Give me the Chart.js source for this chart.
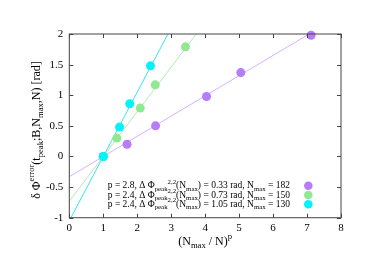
<!DOCTYPE html>
<html><head><meta charset="utf-8">
<script src="https://cdn.jsdelivr.net/npm/chart.js@4/dist/chart.umd.min.js"></script>
<style>html,body{margin:0;padding:0;background:#fff}</style>
</head><body>
<canvas id="c" width="390" height="276"></canvas>
<script>
// ---- data ----
const xTicks = [0, 1, 2, 3, 4, 5, 6, 7, 8];
const yTicks = [-1, -0.5, 0, 0.5, 1, 1.5, 2];
const purpleX = [1, 1.70, 2.54, 4.04, 5.05, 7.12];
const purpleY = [0, 0.20, 0.50, 0.98, 1.37, 1.98];
const greenX = [1, 1.40, 2.09, 2.53, 3.42];
const greenY = [0, 0.30, 0.79, 1.17, 1.79];
const cyanX = [1, 1.48, 1.78, 2.39];
const cyanY = [0, 0.48, 0.86, 1.48];
const fitX = [0, 8];
const purpleFitY = [-0.33, 2.31];
const greenFitY = [-0.73, 5.11];
const cyanFitY = [-1.05, 7.35];
const legendP = ['2.8', '2.4', '2.4'];
const legendDelta = ['0.33', '0.73', '1.05'];
const legendNmax = ['182', '150', '130'];
const pointColors = ['#b77cf7', '#90e890', '#00f4fa'];
const lineColors = ['#d4b2ff', '#b0ecb0', '#38e4f0'];

const FONT = '"Liberation Serif", "Times New Roman", serif';
const zip = (xs, ys) => xs.map((x, i) => ({x, y: ys[i]}));

function drawRich(ctx, segs, x, y, base, align) {
  const size = k => k === 'n' ? base : base * 0.72;
  const off = k => k === 'sub' ? base * 0.32 : (k === 'sup' ? -base * 0.42 : 0);
  let w = 0;
  for (const s of segs) { ctx.font = size(s.k) + 'px ' + FONT; w += ctx.measureText(s.t).width; }
  let cx = align === 'center' ? x - w / 2 : (align === 'right' ? x - w : x);
  ctx.textBaseline = 'middle';
  ctx.textAlign = 'left';
  ctx.fillStyle = '#000';
  for (const s of segs) {
    ctx.font = size(s.k) + 'px ' + FONT;
    ctx.fillText(s.t, cx, y + off(s.k));
    cx += ctx.measureText(s.t).width;
  }
}

const decor = {
  id: 'decor',
  afterDatasetsDraw(chart) {
    const ctx = chart.ctx;
    ctx.save();
    const legY = [185.7, 195, 204.3];
    for (let i = 0; i < 3; i++) {
      const segs = [
        {k: 'n', t: 'p = ' + legendP[i] + ', Δ Φ'}, {k: 'sub', t: 'peak'}, {k: 'sup', t: '2,2'},
        {k: 'n', t: '(N'}, {k: 'sub', t: 'max'},
        {k: 'n', t: ') = ' + legendDelta[i] + ' rad, N'}, {k: 'sub', t: 'max'},
        {k: 'n', t: ' = ' + legendNmax[i]}
      ];
      drawRich(ctx, segs, 290, legY[i], 9.5, 'right');
      ctx.beginPath();
      ctx.fillStyle = pointColors[i];
      ctx.arc(308.3, legY[i], 4.3, 0, Math.PI * 2);
      ctx.fill();
    }
    ctx.restore();
  },
  afterDraw(chart) {
    const ctx = chart.ctx, a = chart.chartArea;
    const xs = chart.scales.x, ys = chart.scales.y;
    ctx.save();
    ctx.strokeStyle = '#444';
    ctx.lineWidth = 1;
    ctx.strokeRect(a.left, a.top, a.right - a.left, a.bottom - a.top);
    ctx.beginPath();
    for (const v of xTicks) {
      const px = Math.round(xs.getPixelForValue(v)) + 0.5;
      ctx.moveTo(px, a.bottom); ctx.lineTo(px, a.bottom - 4);
      ctx.moveTo(px, a.top); ctx.lineTo(px, a.top + 4);
    }
    for (const v of yTicks) {
      const py = Math.round(ys.getPixelForValue(v)) + 0.5;
      ctx.moveTo(a.left, py); ctx.lineTo(a.left + 4, py);
      ctx.moveTo(a.right, py); ctx.lineTo(a.right - 4, py);
    }
    ctx.stroke();
    drawRich(ctx, [{k: 'n', t: '(N'}, {k: 'sub', t: 'max'}, {k: 'n', t: ' / N)'}, {k: 'sup', t: 'p'}],
      (a.left + a.right) / 2, 242, 12, 'center');
    ctx.translate(37, 130);
    ctx.rotate(-Math.PI / 2);
    drawRich(ctx, [{k: 'n', t: 'δ Φ'}, {k: 'sup', t: 'error'}, {k: 'n', t: '(t'}, {k: 'sub', t: 'peak'},
      {k: 'n', t: ';B,N'}, {k: 'sub', t: 'max'}, {k: 'n', t: ',N) [rad]'}], 0, 0, 12, 'center');
    ctx.restore();
  }
};

new Chart(document.getElementById('c'), {
  type: 'scatter',
  data: {
    datasets: [
      {type: 'line', data: zip(fitX, purpleFitY), borderColor: lineColors[0], borderWidth: 1, pointRadius: 0, order: 10, clip: 0},
      {type: 'line', data: zip(fitX, greenFitY), borderColor: lineColors[1], borderWidth: 1, pointRadius: 0, order: 9, clip: 0},
      {type: 'line', data: zip(fitX, cyanFitY), borderColor: lineColors[2], borderWidth: 1, pointRadius: 0, order: 8, clip: 0},
      {data: zip(purpleX, purpleY), backgroundColor: pointColors[0], borderWidth: 0, pointRadius: 4.5, order: 3, clip: false},
      {data: zip(greenX, greenY), backgroundColor: pointColors[1], borderWidth: 0, pointRadius: 4.5, order: 2, clip: false},
      {data: zip(cyanX, cyanY), backgroundColor: pointColors[2], borderWidth: 0, pointRadius: 4.5, order: 1, clip: false}
    ]
  },
  options: {
    responsive: false,
    animation: false,
    devicePixelRatio: 1,
    layout: {padding: {top: 34, right: 49, left: 0, bottom: 0}},
    plugins: {legend: {display: false}, tooltip: {enabled: false}},
    scales: {
      x: {
        type: 'linear', min: 0, max: 8,
        afterBuildTicks: s => { s.ticks = xTicks.map(v => ({value: v})); },
        afterFit: s => { s.height = 58.3; },
        grid: {display: false, drawTicks: false}, border: {display: false},
        ticks: {font: {family: FONT, size: 11}, color: '#000', padding: 4, maxRotation: 0,
          callback: v => String(v)}
      },
      y: {
        type: 'linear', min: -1, max: 2,
        afterBuildTicks: s => { s.ticks = yTicks.map(v => ({value: v})); },
        afterFit: s => { s.width = 69.3; },
        grid: {display: false, drawTicks: false}, border: {display: false},
        ticks: {font: {family: FONT, size: 11}, color: '#000', padding: 6,
          callback: v => String(v)}
      }
    }
  },
  plugins: [decor]
});
</script>
</body></html>
